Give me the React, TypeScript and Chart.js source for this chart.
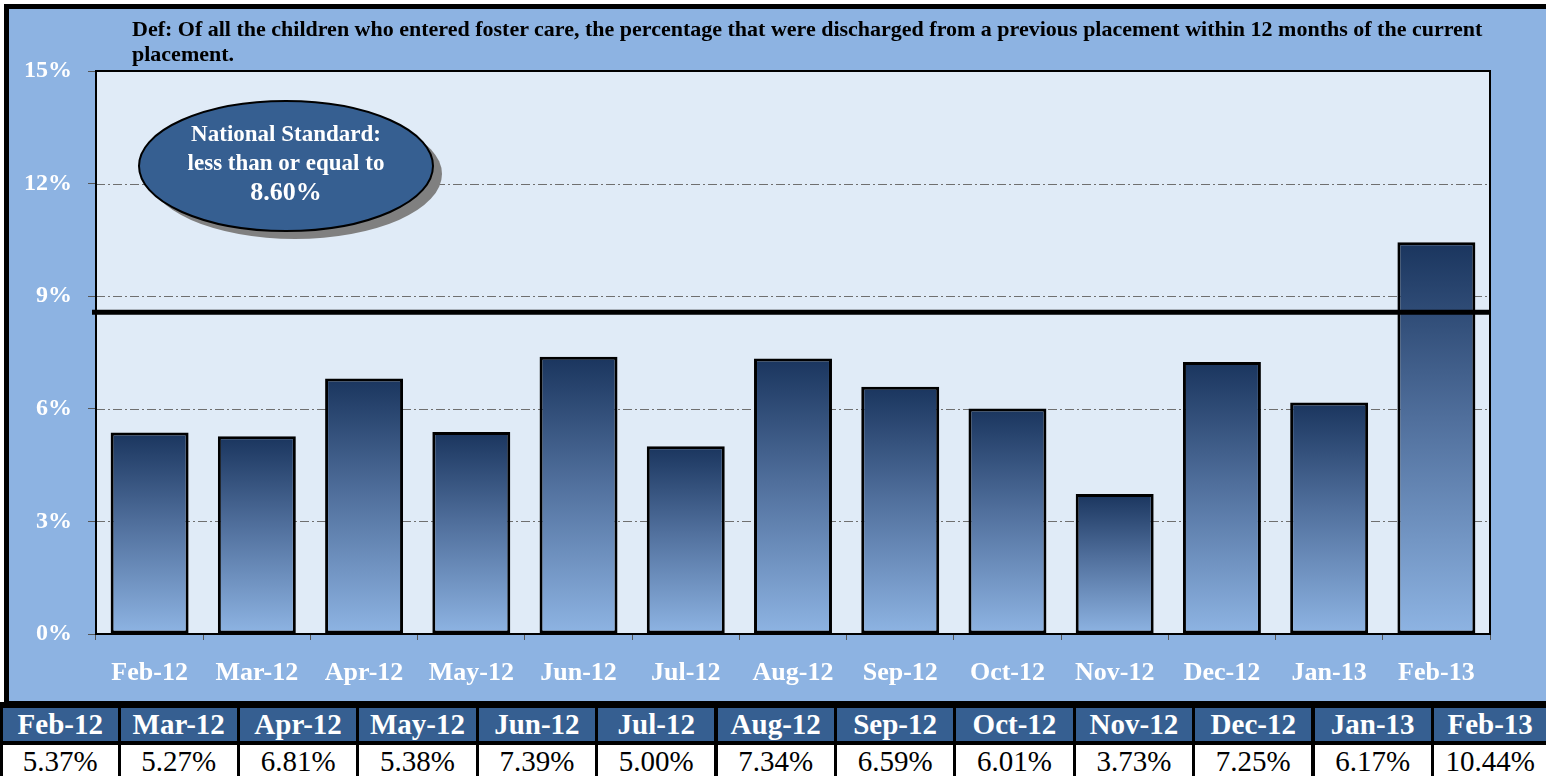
import React, { useEffect, useRef } from "react";
import { Chart, registerables } from "chart.js";

Chart.register(...registerables);

const categories = ["Feb-12", "Mar-12", "Apr-12", "May-12", "Jun-12", "Jul-12", "Aug-12", "Sep-12", "Oct-12", "Nov-12", "Dec-12", "Jan-13", "Feb-13"];
const values = [5.37, 5.27, 6.81, 5.38, 7.39, 5.0, 7.34, 6.59, 6.01, 3.73, 7.25, 6.17, 10.44];
const valueLabels = ["5.37%", "5.27%", "6.81%", "5.38%", "7.39%", "5.00%", "7.34%", "6.59%", "6.01%", "3.73%", "7.25%", "6.17%", "10.44%"];
const yMin = 0;
const yMax = 15;
const yStep = 3;
const nationalStandard = 8.6;
const titleLines = [
  "Def: Of all the children who entered foster care, the percentage that were discharged from a previous placement within 12 months of the current",
  "placement.",
];
const calloutLines = ["National Standard:", "less than or equal to", "8.60%"];

const SERIF = "'Liberation Serif', 'Times New Roman', serif";

const decorPlugin = {
  id: "decor",
  beforeDraw(chart: any) {
    const { ctx, chartArea: a } = chart;
    ctx.save();
    ctx.fillStyle = "#e0ebf7";
    ctx.fillRect(a.left, a.top, a.right - a.left, a.bottom - a.top);
    ctx.restore();
  },
  beforeDatasetsDraw(chart: any) {
    const { ctx, chartArea: a, scales } = chart;
    const y = scales.y;
    ctx.save();
    ctx.strokeStyle = "#6f6f6f";
    ctx.lineWidth = 1;
    ctx.setLineDash([9, 3, 2, 3]);
    for (let v = yMin + yStep; v < yMax; v += yStep) {
      const py = Math.round(y.getPixelForValue(v)) + 0.5;
      ctx.beginPath();
      ctx.moveTo(a.left, py);
      ctx.lineTo(a.right, py);
      ctx.stroke();
    }
    ctx.setLineDash([]);
    ctx.strokeStyle = "#000";
    ctx.lineWidth = 2;
    ctx.strokeRect(a.left, a.top, a.right - a.left, a.bottom - a.top);
    ctx.restore();
  },
  afterDatasetsDraw(chart: any) {
    const { ctx, chartArea: a, scales } = chart;
    const py = scales.y.getPixelForValue(nationalStandard);
    ctx.save();
    ctx.strokeStyle = "#000";
    ctx.lineWidth = 5;
    ctx.beginPath();
    ctx.moveTo(a.left - 4, py + 1);
    ctx.lineTo(a.right, py + 1);
    ctx.stroke();

    // callout ellipse
    const cx = 286, cy = 166, rx = 147, ry = 65;
    ctx.fillStyle = "#808080";
    ctx.beginPath();
    ctx.ellipse(cx + 9, cy + 8, rx, ry, 0, 0, Math.PI * 2);
    ctx.fill();
    ctx.fillStyle = "#365f91";
    ctx.beginPath();
    ctx.ellipse(cx, cy, rx, ry, 0, 0, Math.PI * 2);
    ctx.fill();
    ctx.lineWidth = 2;
    ctx.strokeStyle = "#000";
    ctx.stroke();
    ctx.fillStyle = "#fff";
    ctx.textAlign = "center";
    ctx.textBaseline = "alphabetic";
    ctx.font = `bold 23px ${SERIF}`;
    ctx.fillText(calloutLines[0], cx, 141);
    ctx.fillText(calloutLines[1], cx, 170);
    ctx.font = `bold 26px ${SERIF}`;
    ctx.fillText(calloutLines[2], cx, 200);
    ctx.restore();
  },
};

export default function App() {
  const ref = useRef<HTMLCanvasElement>(null);

  useEffect(() => {
    document.body.style.margin = "0";
    const canvas = ref.current!;
    const chart = new Chart(canvas, {
      type: "bar",
      data: {
        labels: categories,
        datasets: [
          {
            data: values,
            backgroundColor: (c: any) => {
              const ch = c.chart;
              const ys = ch.scales && ch.scales.y;
              if (!ch.chartArea || !ys || typeof c.raw !== "number") return "#4a6a98";
              const top = ys.getPixelForValue(c.raw);
              const bottom = ys.getPixelForValue(0);
              const g = ch.ctx.createLinearGradient(0, top, 0, bottom);
              g.addColorStop(0, "#1a355e");
              g.addColorStop(0.45, "#506f9c");
              g.addColorStop(1, "#8eb4e3");
              return g;
            },
            borderColor: "#000",
            borderWidth: 3,
            borderSkipped: false,
            barPercentage: 0.727,
            categoryPercentage: 1,
          },
        ],
      },
      options: {
        responsive: false,
        animation: false,
        devicePixelRatio: 1,
        layout: { padding: { left: 0, top: 71, right: 56, bottom: 0 } },
        plugins: {
          legend: { display: false },
          tooltip: { enabled: false },
          title: { display: false },
        },
        scales: {
          x: {
            type: "category",
            offset: true,
            afterFit: (s: any) => {
              s.height = 74;
            },
            grid: {
              offset: true,
              drawOnChartArea: false,
              drawTicks: true,
              tickLength: 6,
              tickColor: "#555",
              color: "#555",
            },
            border: { display: false },
            ticks: {
              color: "#fff",
              font: { family: SERIF, size: 26, weight: "bold" },
              padding: 18,
              maxRotation: 0,
              autoSkip: false,
            },
          },
          y: {
            min: yMin,
            max: yMax,
            afterFit: (s: any) => {
              s.width = 96;
            },
            grid: {
              drawOnChartArea: false,
              drawTicks: true,
              tickLength: 8,
              tickColor: "#555",
              color: "#555",
            },
            border: { display: false },
            ticks: {
              stepSize: yStep,
              color: "#fff",
              padding: 16,
              font: { family: SERIF, size: 24, weight: "bold" },
              callback: (v: any) => `${v}%`,
            },
          },
        },
      },
      plugins: [decorPlugin],
    });
    return () => chart.destroy();
  }, []);

  // table column separators (layout only)
  const seps: number[] = [0];
  for (let k = 1; k <= 12; k++) seps.push(119 + 119.4 * (k - 1));
  seps.push(1548);

  return (
    <div style={{ position: "absolute", left: 0, top: 0, width: 1546, height: 776, background: "#fff", overflow: "hidden" }}>
      <div style={{ position: "absolute", left: 4, top: 4, width: 1542, height: 704, background: "#000" }} />
      <div style={{ position: "absolute", left: 9, top: 9, width: 1537, height: 692, background: "#8db3e2" }} />
      <canvas ref={ref} width={1546} height={708} style={{ position: "absolute", left: 0, top: 0, width: 1546, height: 708 }} />
      {titleLines.map((t, i) => (
        <div
          key={i}
          style={{
            position: "absolute",
            left: 132,
            top: 16 + i * 25,
            font: `bold 22px ${SERIF}`,
            lineHeight: "25px",
            whiteSpace: "nowrap",
            color: "#000",
          }}
        >
          {t}
        </div>
      ))}
      <div style={{ position: "absolute", left: 0, top: 702, width: 1546, height: 74, background: "#000" }}>
        {categories.map((c, i) => {
          const l = i === 0 ? 3 : seps[i] + 1.5;
          const r = seps[i + 1] - 1.5;
          return (
            <React.Fragment key={c}>
              <div
                style={{
                  position: "absolute",
                  left: l,
                  top: 6,
                  width: r - l,
                  height: 33,
                  background: "#365f91",
                  color: "#fff",
                  font: `bold 29px ${SERIF}`,
                  display: "flex",
                  alignItems: "center",
                  justifyContent: "center",
                  whiteSpace: "nowrap",
                }}
              >
                {c}
              </div>
              <div
                style={{
                  position: "absolute",
                  left: l,
                  top: 43,
                  width: r - l,
                  height: 33,
                  background: "#fff",
                  color: "#000",
                  font: `29px ${SERIF}`,
                  display: "flex",
                  alignItems: "center",
                  justifyContent: "center",
                  whiteSpace: "nowrap",
                }}
              >
                {valueLabels[i]}
              </div>
            </React.Fragment>
          );
        })}
      </div>
    </div>
  );
}
